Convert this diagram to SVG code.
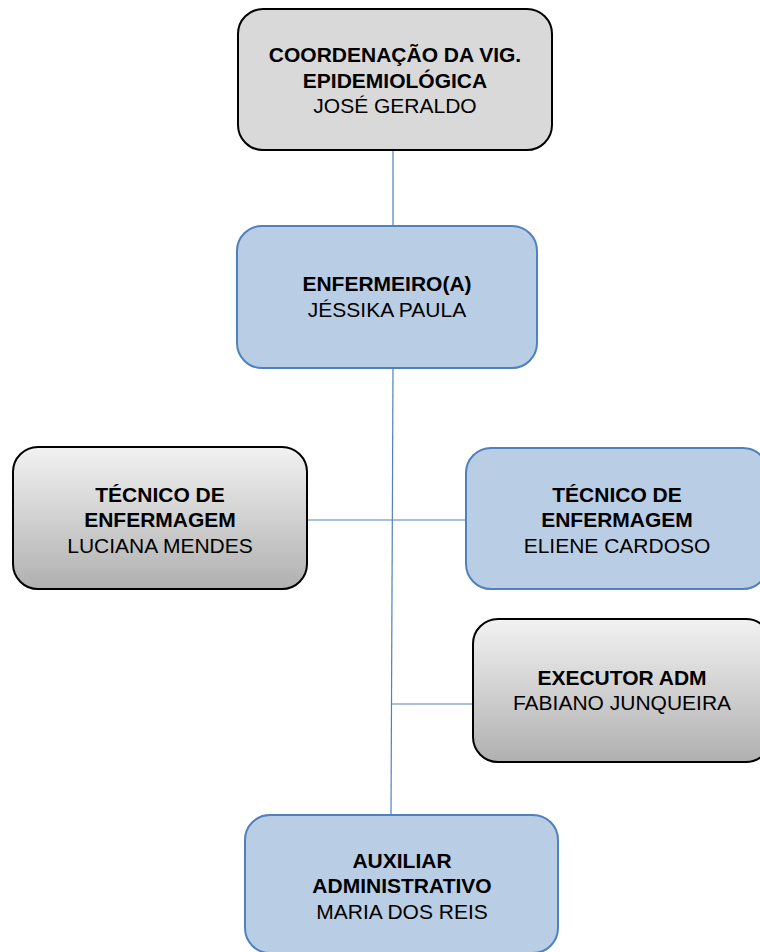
<svg xmlns="http://www.w3.org/2000/svg" width="760" height="952" viewBox="0 0 760 952">
<style>
.blue{fill:#b9cde5;stroke:#4f81bd;stroke-width:2}
.gray{fill:#d9d9d9;stroke:#000;stroke-width:2}
.grad{fill:url(#g);stroke:#000;stroke-width:2}
text{font-family:"Liberation Sans",Arial,sans-serif;font-size:21px;text-anchor:middle;fill:#000}
.b{font-weight:bold}
.c{stroke:#4f81bd;stroke-width:1.2;fill:none}
</style>
<defs>
<linearGradient id="g" x1="0" y1="0" x2="0" y2="1">
<stop offset="0" stop-color="#f2f2f2"/>
<stop offset="1" stop-color="#b0b0b0"/>
</linearGradient>
</defs>
<rect width="760" height="952" fill="#fff"/>
<g id="connectors">
<line class="c" x1="393" y1="150" x2="393" y2="226"/>
<line class="c" x1="393" y1="368" x2="391" y2="815"/>
<line class="c" x1="307" y1="520" x2="466" y2="520"/>
<line class="c" x1="391" y1="704" x2="473" y2="704"/>
</g>
<g id="coord">
<rect class="gray" x="238" y="9" width="314" height="141" rx="25"/>
<text x="395" y="62" class="b">COORDENAÇÃO DA VIG.</text>
<text x="395" y="88" class="b">EPIDEMIOLÓGICA</text>
<text x="395" y="113">JOSÉ GERALDO</text>
</g>
<g id="enfermeiro">
<rect class="blue" x="237" y="226" width="300" height="142" rx="25"/>
<text x="387" y="291" class="b">ENFERMEIRO(A)</text>
<text x="387" y="317">JÉSSIKA PAULA</text>
</g>
<g id="tecnico1">
<rect class="grad" x="13" y="447" width="294" height="142" rx="25"/>
<text x="160" y="502" class="b">TÉCNICO DE</text>
<text x="160" y="527" class="b">ENFERMAGEM</text>
<text x="160" y="553">LUCIANA MENDES</text>
</g>
<g id="tecnico2">
<rect class="blue" x="466" y="448" width="302" height="141" rx="25"/>
<text x="617" y="502" class="b">TÉCNICO DE</text>
<text x="617" y="527" class="b">ENFERMAGEM</text>
<text x="617" y="553">ELIENE CARDOSO</text>
</g>
<g id="executor">
<rect class="grad" x="473" y="619" width="298" height="143" rx="25"/>
<text x="622" y="685" class="b">EXECUTOR ADM</text>
<text x="622" y="710">FABIANO JUNQUEIRA</text>
</g>
<g id="auxiliar">
<rect class="blue" x="245" y="815" width="313" height="138" rx="25"/>
<text x="402" y="868" class="b">AUXILIAR</text>
<text x="402" y="893" class="b">ADMINISTRATIVO</text>
<text x="402" y="919">MARIA DOS REIS</text>
</g>
</svg>
